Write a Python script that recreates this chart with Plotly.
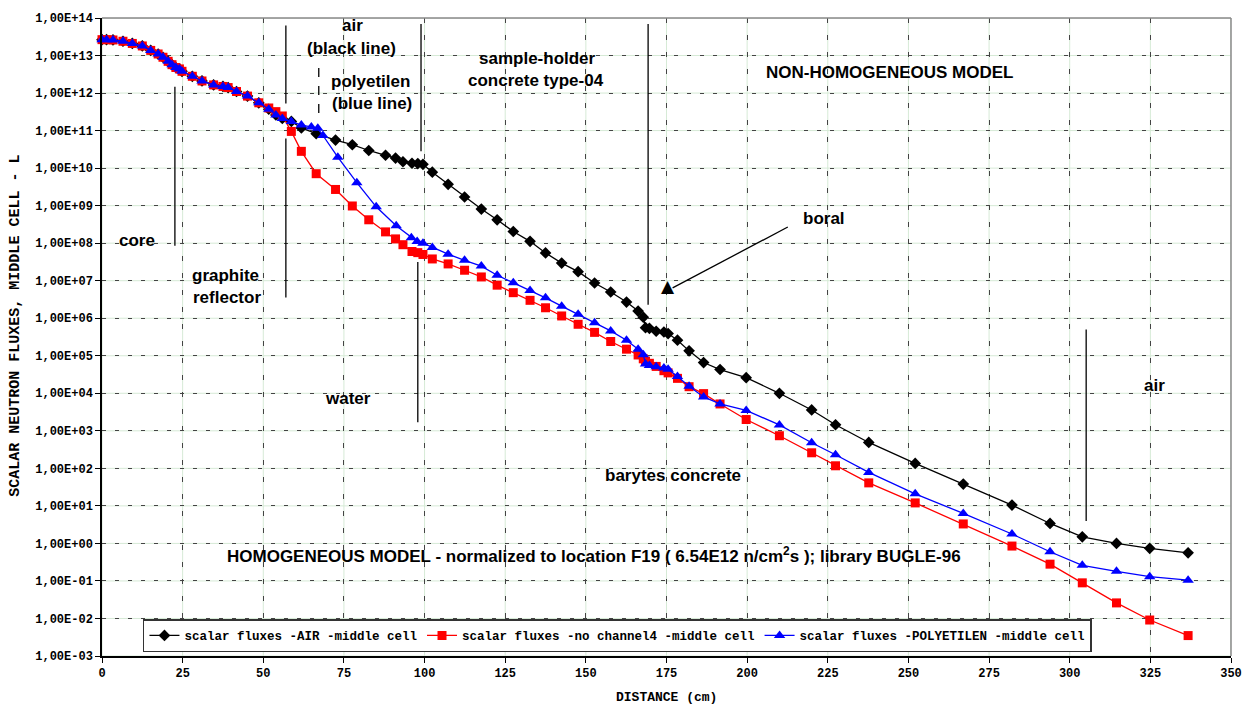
import plotly.graph_objects as go

# ---------------- data ----------------
dist_core = [0, 1.4, 3.4, 6.5, 9.4, 12.5, 15.1, 17.4, 18.9, 20.5, 21.7, 22.9, 24.0, 24.8,
             28.0, 31.0, 34.6, 37.5, 39.1, 41.7, 45.1, 48.6, 51.7, 53.9, 55.9]
flux_core_air = [2.65e13, 2.65e13, 2.6e13, 2.4e13, 2.1e13, 1.8e13, 1.37e13, 1.1e13, 9.0e12, 7.0e12,
                 5.7e12, 4.8e12, 4.4e12, 3.8e12, 2.8e12, 2.1e12, 1.65e12, 1.5e12, 1.4e12, 1.1e12,
                 8.3e11, 5.5e11, 3.7e11, 2.6e11, 2.1e11]
flux_core_noch = [2.65e13, 2.65e13, 2.6e13, 2.4e13, 2.1e13, 1.8e13, 1.37e13, 1.1e13, 9.0e12, 7.0e12,
                  5.7e12, 4.8e12, 4.4e12, 3.8e12, 2.8e12, 2.1e12, 1.65e12, 1.5e12, 1.4e12, 1.1e12,
                  8.3e11, 5.5e11, 4.0e11, 3.2e11, 2.45e11]
flux_core_poly = [2.65e13, 2.65e13, 2.6e13, 2.4e13, 2.1e13, 1.8e13, 1.37e13, 1.1e13, 9.0e12, 7.0e12,
                  5.7e12, 4.8e12, 4.4e12, 3.8e12, 2.8e12, 2.1e12, 1.65e12, 1.5e12, 1.4e12, 1.1e12,
                  8.3e11, 5.5e11, 3.7e11, 2.6e11, 2.1e11]

dist_tail = [58.7, 61.8, 66.4, 72.4, 77.6, 82.7, 87.9, 91.0, 93.3, 96.1, 97.9, 99.5, 102.4, 107.3,
             112.4, 117.6, 122.5, 127.5, 132.7, 137.5, 142.5, 147.6, 152.7, 157.7, 162.6, 166.2,
             167.8, 168.5, 169.7, 171.8, 174.2, 175.5, 178.4, 182.0, 186.5, 191.6, 199.7, 210.0,
             220.0, 227.4, 237.7, 252.1, 267.0, 282.1, 293.9, 303.9, 314.5, 324.8, 336.7]
dist_tail_poly = [58.7, 61.8, 64.9, 66.9, 68.5, 73.1, 79.0, 85.0, 91.2, 95.9, 97.7, 99.5, 102.4, 107.3,
                  112.4, 117.6, 122.5, 127.5, 132.7, 137.5, 142.5, 147.6, 152.7, 157.7, 162.6, 166.2,
                  167.8, 168.5, 169.7, 171.8, 174.2, 175.5, 178.4, 182.0, 186.5, 191.6, 199.7, 210.0,
                  220.0, 227.4, 237.7, 252.1, 267.0, 282.1, 293.9, 303.9, 314.5, 324.8, 336.7]

flux_tail_air = [1.75e11, 1.18e11, 8.3e10, 5.6e10, 4.2e10, 2.95e10, 2.2e10, 1.85e10, 1.48e10, 1.35e10,
                 1.32e10, 1.26e10, 7.8e9, 3.7e9, 1.7e9, 8.1e8, 4.2e8, 2.05e8, 1.12e8, 5.5e7,
                 2.95e7, 1.74e7, 8.7e6, 5.0e6, 2.7e6, 1.55e6, 1.07e6, 5.6e5, 5.4e5, 4.5e5,
                 4.3e5, 3.9e5, 2.6e5, 1.35e5, 6.6e4, 4.3e4, 2.6e4, 1.0e4, 3.6e3, 1.45e3,
                 4.9e2, 1.35e2, 38, 10.5, 3.4, 1.5, 1.0, 0.74, 0.56]
flux_tail_noch = [9.5e10, 2.8e10, 7.1e9, 2.7e9, 9.8e8, 4.2e8, 2.0e8, 1.3e8, 9.1e7, 6.0e7,
                  5.6e7, 5.0e7, 3.8e7, 2.8e7, 1.9e7, 1.26e7, 7.6e6, 4.8e6, 3.0e6, 1.9e6,
                  1.15e6, 6.9e5, 4.2e5, 2.4e5, 1.5e5, 1.05e5, 8.3e4, 7.2e4, 6.3e4, 5.2e4,
                  4.0e4, 3.5e4, 2.5e4, 1.5e4, 9.8e3, 5.2e3, 2.0e3, 7.4e2, 2.6e2, 1.17e2,
                  41, 12, 3.3, 0.85, 0.28, 0.089, 0.026, 0.0091, 0.0035]
flux_tail_poly = [1.75e11, 1.4e11, 1.25e11, 1.15e11, 7.4e10, 1.95e10, 4.1e9, 9.3e8, 2.9e8, 1.4e8,
                  1.1e8, 1.0e8, 7.7e7, 5.1e7, 3.5e7, 2.45e7, 1.4e7, 8.8e6, 5.5e6, 3.5e6,
                  2.1e6, 1.27e6, 7.6e5, 4.6e5, 2.6e5, 1.5e5, 1.07e5, 6.0e4, 5.5e4, 5.1e4,
                  4.7e4, 4.4e4, 2.8e4, 1.55e4, 8.0e3, 5.2e3, 3.5e3, 1.44e3, 4.8e2, 2.3e2,
                  78, 21, 6.3, 1.78, 0.60, 0.26, 0.18, 0.13, 0.105]

series_names = ["scalar fluxes -AIR -middle cell",
                "scalar fluxes -no channel4 -middle cell",
                "scalar fluxes -POLYETILEN -middle cell"]
x_ticks = list(range(0, 351, 25))
y_exponents = list(range(-3, 15))
y_tick_labels = [f"1,00E{e:+03d}" for e in y_exponents]

# ---------------- layout geometry ----------------
W, H = 1254, 709
L, R, T, B = 102, 22, 13, 53
PW, PH = W - L - R, H - T - B


def px(xp):
    return (xp - L) / PW


def py(yp):
    return (H - B - yp) / PH


fig = go.Figure()

fig.add_trace(go.Scatter(
    x=dist_core + dist_tail, y=flux_core_air + flux_tail_air, name=series_names[0],
    mode="lines+markers", line=dict(color="black", width=1.3),
    marker=dict(symbol="diamond", size=9, color="black"), cliponaxis=False))
fig.add_trace(go.Scatter(
    x=dist_core + dist_tail, y=flux_core_noch + flux_tail_noch, name=series_names[1],
    mode="lines+markers", line=dict(color="#ff0000", width=1.3),
    marker=dict(symbol="square", size=9, color="#ff0000"), cliponaxis=False))
fig.add_trace(go.Scatter(
    x=dist_core + dist_tail_poly, y=flux_core_poly + flux_tail_poly, name=series_names[2],
    mode="lines+markers", line=dict(color="#0000ff", width=1.3),
    marker=dict(symbol="triangle-up", size=10, color="#0000ff"), cliponaxis=False))

mono = "Liberation Mono, Courier New, monospace"
sans = "Liberation Sans, Arial, sans-serif"

shapes = []
# light green solid grid underneath the dashed grid
for xv in x_ticks:
    shapes.append(dict(type="line", xref="x", yref="paper", x0=xv, x1=xv, y0=0, y1=1,
                       line=dict(color="#d6ead6", width=1), layer="below"))
for e in y_exponents:
    shapes.append(dict(type="line", xref="paper", yref="y", x0=0, x1=1, y0=10.0 ** e, y1=10.0 ** e,
                       line=dict(color="#d6ead6", width=1), layer="below"))
# grey top/right frame
shapes.append(dict(type="line", xref="paper", yref="paper", x0=0, x1=1, y0=1, y1=1,
                   line=dict(color="#888888", width=1.5)))
shapes.append(dict(type="line", xref="paper", yref="paper", x0=1, x1=1, y0=0, y1=1,
                   line=dict(color="#888888", width=1.5)))

# region boundary lines (x in cm, y as log10 of flux)
region_lines = [
    (22.6, 12.17, 7.93, "solid"),
    (57.0, 13.80, 11.72, "solid"),
    (57.0, 10.79, 6.55, "solid"),
    (67.2, 12.67, 11.37, "dash"),
    (98.9, 13.84, 10.45, "solid"),
    (97.9, 7.50, 3.23, "solid"),
    (169.3, 13.84, 6.36, "solid"),
    (305.1, 5.70, 0.60, "solid"),
]
for xv, y0, y1, dsh in region_lines:
    shapes.append(dict(type="line", xref="x", yref="y", x0=xv, x1=xv, y0=10.0 ** y0, y1=10.0 ** y1,
                       line=dict(color="black", width=1.3, dash=dsh)))
# arrow to boral
shapes.append(dict(type="line", xref="x", yref="y", x0=212.6, y0=10.0 ** 8.43,
                   x1=176.9, y1=10.0 ** 6.81, line=dict(color="black", width=1.3)))

annotations = []


def txt(t, xp, yp, size=17, font=sans, bold=True):
    annotations.append(dict(text=t, xref="paper", yref="paper", x=px(xp), y=py(yp),
                            xanchor="center", yanchor="middle", showarrow=False,
                            font=dict(family=font, size=size, color="black",
                                      weight="bold" if bold else "normal")))


txt("air", 353, 21)
txt("(black line)", 352, 44)
txt("polyetilen", 371, 77)
txt("(blue line)", 372, 99)
txt("sample-holder", 538, 54)
txt("concrete type-04", 536, 76)
txt("NON-HOMOGENEOUS MODEL", 890, 68)
txt("core", 137, 237)
txt("graphite", 226, 273)
txt("reflector", 227, 295)
txt("boral", 825, 215)
txt("water", 348, 396)
txt("barytes concrete", 674, 474)
txt("air", 1155, 383)
txt("HOMOGENEOUS MODEL - normalized to location F19 ( 6.54E12 n/cm<sup>2</sup>s ); library BUGLE-96",
    594, 554)
txt("▲", 669, 283, size=17, font="DejaVu Sans", bold=False)

# axis titles
annotations.append(dict(text="SCALAR NEUTRON FLUXES, MIDDLE CELL - L", xref="paper", yref="paper",
                        x=px(16), y=py(323), textangle=-90, showarrow=False,
                        xanchor="center", yanchor="middle",
                        font=dict(family=mono, size=15, color="black", weight="bold")))
annotations.append(dict(text="DISTANCE (cm)", xref="paper", yref="paper",
                        x=px(667), y=py(698), showarrow=False,
                        xanchor="center", yanchor="middle",
                        font=dict(family=mono, size=13, color="black", weight="bold")))

fig.update_layout(
    width=W, height=H, autosize=False,
    margin=dict(l=L, r=R, t=T, b=B, pad=0),
    paper_bgcolor="white", plot_bgcolor="white",
    shapes=shapes, annotations=annotations,
    showlegend=True,
    legend=dict(orientation="h", x=px(143), y=py(619), xanchor="left", yanchor="top",
                bgcolor="white", bordercolor="#333333", borderwidth=1.5,
                font=dict(family=mono, size=12.5, color="black", weight="bold"),
                itemwidth=30, tracegroupgap=0),
    xaxis=dict(range=[0, 350], tickvals=x_ticks, ticktext=[str(v) for v in x_ticks],
               showgrid=True, gridcolor="#444444", gridwidth=1, griddash="5px,12px",
               zeroline=False, showline=True, linecolor="black", linewidth=1.5,
               ticks="outside", ticklen=5, tickcolor="black",
               tickfont=dict(family=mono, size=12, color="black", weight="bold")),
    yaxis=dict(type="log", range=[-3, 14], tickvals=[10.0 ** e for e in y_exponents],
               ticktext=y_tick_labels,
               showgrid=True, gridcolor="#444444", gridwidth=1, griddash="4px,9px",
               zeroline=False, showline=True, linecolor="black", linewidth=1.5,
               ticks="outside", ticklen=5, tickcolor="black",
               tickfont=dict(family=mono, size=12, color="black", weight="bold")),
)

fig.write_html("out.html")
